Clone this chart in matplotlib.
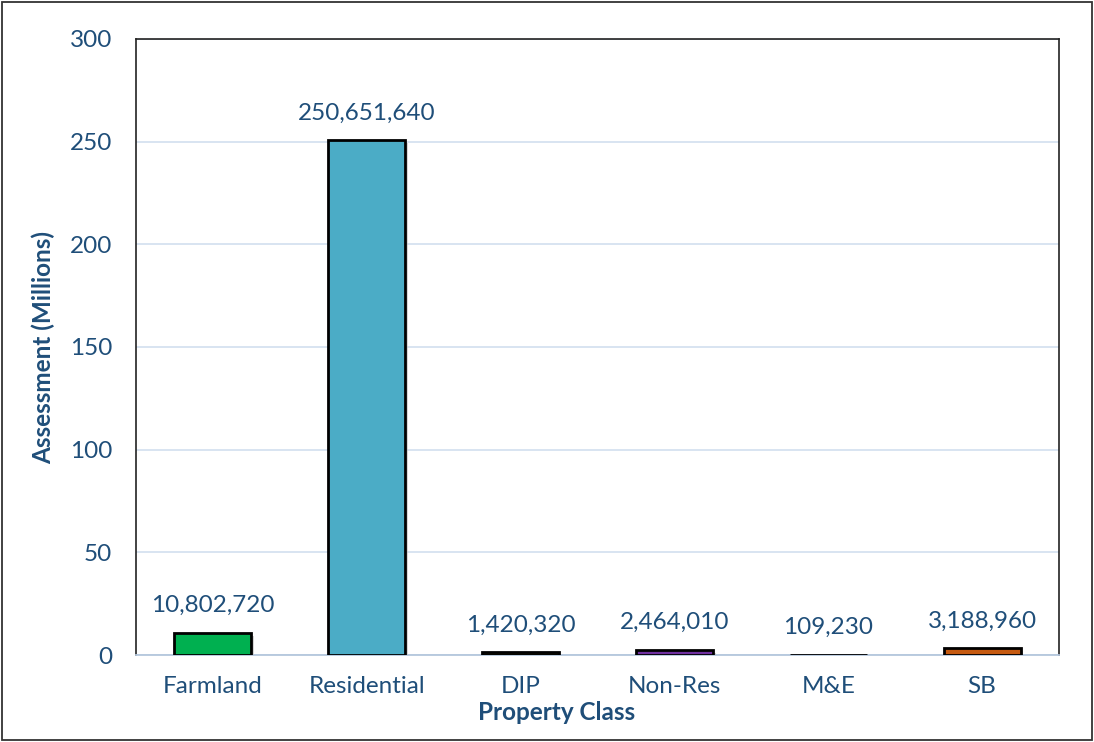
import matplotlib.pyplot as plt
import matplotlib.patheffects as pe
from matplotlib.patches import Rectangle

# assessment by property class
classes = ["Farmland", "Residential", "DIP", "Non-Res", "M&E", "SB"]
assessment = [10802720, 250651640, 1420320, 2464010, 109230, 3188960]
bar_colors = ["#00B050", "#4BACC6", "#3A3000", "#7030A0", "#FFFFFF", "#C55A11"]
y_ticks = [0, 50, 100, 150, 200, 250, 300]

text_color = "#1F4E79"
plt.rcParams['font.family'] = ['Lato', 'DejaVu Sans']
fs = 17.5

fig = plt.figure(figsize=(10.94, 7.42), dpi=100)
ax = fig.add_axes([136 / 1094, 1 - 655 / 742, (1059 - 136) / 1094, (655 - 39) / 742])

millions = [v / 1e6 for v in assessment]
x = range(len(classes))
bars = ax.bar(x, millions, width=0.5, color=bar_colors, edgecolor="black", linewidth=2, zorder=3,
              path_effects=[pe.SimplePatchShadow(offset=(2, -2), shadow_rgbFace="#BBBBBB", alpha=0.6), pe.Normal()])

for xi, m, v in zip(x, millions, assessment):
    ax.annotate(f"{v:,}", (xi, m), xytext=(0, 12), textcoords="offset points",
                ha="center", va="bottom", fontsize=fs, color=text_color)

ax.set_xlim(-0.5, len(classes) - 0.5)
ax.set_ylim(0, 300)
ax.set_yticks(y_ticks)
ax.set_xticks(list(x))
ax.set_xticklabels(classes)
ax.tick_params(axis="both", length=0, labelsize=fs, labelcolor=text_color)
ax.tick_params(axis="x", pad=15)
ax.tick_params(axis="y", pad=17)

ax.grid(axis="y", color="#D6E2F0", linewidth=1.3, zorder=0)
ax.set_axisbelow(True)
for side in ["top", "left", "right"]:
    ax.spines[side].set_color("#222222")
    ax.spines[side].set_linewidth(1.2)
ax.spines["bottom"].set_color("#B4C7DC")
ax.spines["bottom"].set_linewidth(1.3)

ax.set_xlabel("Property Class", fontsize=fs, fontweight="bold", color=text_color)
ax.xaxis.set_label_coords((557 - 136) / 923, -(713 - 655) / 616)
ax.xaxis.label.set_va("center")
ax.set_ylabel("Assessment (Millions)", fontsize=fs, fontweight="bold", color=text_color)
ax.yaxis.set_label_coords(-(136 - 43) / 923, 0.5)
ax.yaxis.label.set_va("center")

# outer frame around the whole chart
fig.patches.append(Rectangle((2 / 1094, 2 / 742), 1090 / 1094, 738 / 742, transform=fig.transFigure,
                             fill=False, edgecolor="#333333", linewidth=1.3))

fig.savefig("out.png", dpi=100)
